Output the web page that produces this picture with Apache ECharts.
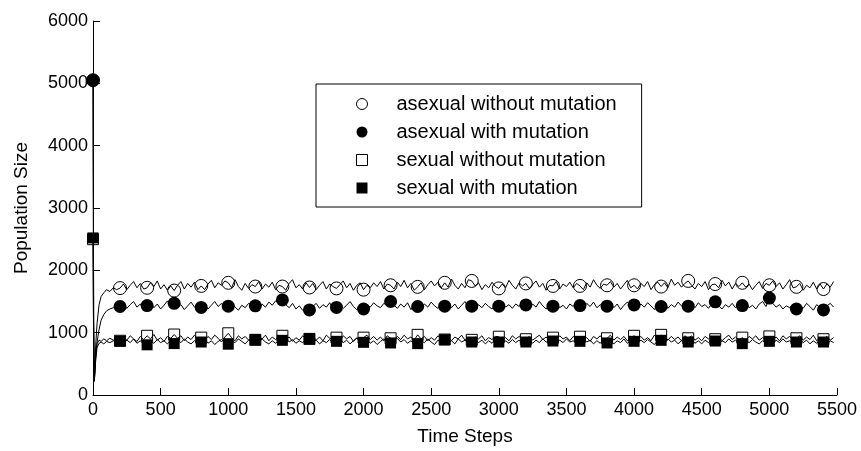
<!DOCTYPE html>
<html>
<head>
<meta charset="utf-8">
<script src="https://cdn.jsdelivr.net/npm/echarts@6/dist/echarts.min.js"></script>
<style>
html,body{margin:0;padding:0;background:#fff;}
#chart{width:861px;height:451px;}
</style>
</head>
<body>
<div id="chart"></div>
<script>
// ---- data ----
const seriesNames = ['asexual without mutation', 'asexual with mutation', 'sexual without mutation', 'sexual with mutation'];
const xTicks = [0, 500, 1000, 1500, 2000, 2500, 3000, 3500, 4000, 4500, 5000, 5500];
const yTicks = [0, 1000, 2000, 3000, 4000, 5000, 6000];

// marker sample times: 0, 200, ..., 5400
const markerTimes = [0,200,400,600,800,1000,1200,1400,1600,1800,2000,2200,2400,2600,2800,3000,3200,3400,3600,3800,4000,4200,4400,4600,4800,5000,5200,5400];

const awMarks = [5050,1715,1720,1675,1750,1800,1740,1740,1725,1710,1690,1760,1735,1800,1830,1710,1790,1750,1750,1760,1760,1740,1830,1780,1800,1760,1735,1700];
const amMarks = [5050,1420,1435,1470,1405,1425,1430,1525,1365,1405,1380,1500,1420,1425,1425,1425,1445,1425,1435,1425,1445,1420,1425,1495,1435,1555,1380,1365];
const swMarks = [2500,870,950,970,920,990,885,950,900,920,920,910,965,890,885,935,895,920,935,910,950,965,910,895,920,940,910,895];
const smMarks = [2520,865,805,825,850,815,888,877,903,861,845,835,824,888,850,850,850,866,861,835,861,877,850,866,824,861,850,850];

// line sample times: early transient, then every 25 steps from 200 to 5475
const earlyTimes = [0, 5, 10, 20, 30, 45, 60, 80, 100, 125, 150, 175];
const lineTimes = earlyTimes.slice();
for (let t = 200; t <= 5475; t += 25) lineTimes.push(t);

const awLine = [5050,1200,260,800,1150,1450,1580,1640,1690,1660,1720,1690,
 1715,1780,1690,1760,1820,1720,1790,1700,
 1720,1800,1740,1830,1700,1770,1680,1750,
 1675,1760,1820,1700,1790,1730,1810,1690,
 1750,1690,1780,1840,1720,1800,1760,1830,
 1800,1720,1850,1740,1680,1790,1710,1770,
 1740,1820,1700,1780,1730,1810,1690,1760,
 1740,1680,1790,1850,1720,1770,1700,1800,
 1725,1790,1690,1760,1820,1700,1780,1740,
 1710,1770,1830,1720,1790,1680,1760,1800,
 1690,1760,1720,1800,1740,1820,1700,1780,
 1760,1700,1810,1740,1840,1720,1790,1680,
 1735,1800,1690,1770,1830,1750,1810,1720,
 1800,1730,1860,1760,1700,1790,1720,1850,
 1830,1750,1800,1690,1770,1720,1810,1740,
 1710,1780,1720,1840,1760,1700,1800,1750,
 1790,1710,1770,1830,1730,1790,1680,1760,
 1750,1820,1700,1780,1740,1810,1720,1790,
 1750,1690,1800,1730,1850,1760,1710,1780,
 1760,1820,1730,1790,1700,1770,1840,1720,
 1760,1700,1790,1740,1820,1690,1770,1810,
 1740,1800,1720,1860,1760,1810,1730,1790,
 1830,1760,1700,1790,1740,1820,1690,1770,
 1780,1720,1840,1750,1810,1700,1790,1740,
 1800,1730,1780,1690,1760,1820,1710,1790,
 1760,1830,1740,1800,1700,1770,1850,1720,
 1735,1790,1680,1760,1720,1810,1700,1780,
 1700,1780,1730,1820];
const amLine = [5050,1100,220,600,850,1050,1200,1290,1350,1380,1400,1440,
 1420,1470,1390,1450,1500,1410,1460,1380,
 1435,1490,1400,1460,1380,1440,1510,1420,
 1470,1400,1450,1370,1430,1490,1410,1460,
 1405,1460,1380,1440,1500,1420,1470,1390,
 1425,1480,1410,1360,1440,1400,1470,1450,
 1430,1380,1460,1410,1490,1440,1510,1470,
 1525,1450,1400,1470,1380,1430,1360,1410,
 1365,1420,1470,1390,1450,1410,1480,1380,
 1405,1460,1390,1440,1500,1420,1370,1430,
 1380,1450,1410,1480,1430,1400,1470,1440,
 1500,1440,1390,1460,1410,1480,1370,1450,
 1420,1380,1460,1410,1490,1430,1390,1450,
 1425,1480,1400,1460,1380,1440,1500,1410,
 1425,1370,1450,1400,1470,1420,1380,1460,
 1425,1480,1410,1450,1390,1460,1420,1490,
 1445,1390,1460,1410,1500,1430,1380,1450,
 1425,1470,1400,1440,1380,1460,1420,1480,
 1435,1390,1470,1420,1490,1400,1450,1410,
 1425,1480,1400,1460,1370,1440,1490,1420,
 1445,1390,1460,1410,1480,1430,1370,1450,
 1420,1470,1390,1450,1410,1490,1430,1380,
 1425,1460,1400,1480,1420,1450,1390,1470,
 1495,1430,1380,1450,1410,1470,1400,1460,
 1435,1480,1400,1440,1380,1460,1500,1420,
 1555,1470,1410,1450,1380,1430,1400,1460,
 1380,1440,1390,1470,1420,1360,1450,1400,
 1365,1430,1470,1410];
const swLine = [2500,700,250,650,820,880,860,900,870,910,880,900,
 870,930,880,950,900,860,940,890,
 950,900,970,880,920,860,940,910,
 970,910,950,870,930,890,960,880,
 920,870,940,890,960,910,850,930,
 990,920,870,950,900,940,880,920,
 885,940,900,960,870,930,890,950,
 950,890,930,860,920,880,950,900,
 900,950,880,930,870,960,910,890,
 920,870,950,900,940,860,920,880,
 920,960,890,940,880,930,870,950,
 910,870,940,890,960,900,930,880,
 965,900,940,870,920,880,950,900,
 890,940,870,930,900,960,880,920,
 885,930,900,950,870,920,890,940,
 935,880,920,870,950,900,940,890,
 895,940,880,920,960,890,930,870,
 920,880,950,900,930,870,940,910,
 935,890,920,860,940,900,950,880,
 910,960,880,930,890,940,870,920,
 950,900,940,880,920,870,960,900,
 965,910,880,940,890,930,870,950,
 910,950,880,920,870,940,900,930,
 895,940,870,920,960,890,930,880,
 920,870,940,900,950,880,920,890,
 940,890,930,870,950,900,940,880,
 910,950,880,930,890,960,870,920,
 895,940,880,920];
const smLine = [2520,650,220,560,760,830,850,820,860,840,870,850,
 865,820,880,840,900,830,870,810,
 805,860,830,890,840,870,820,880,
 825,880,840,900,850,820,870,830,
 850,900,830,870,810,860,890,840,
 815,870,840,900,860,820,880,850,
 888,840,900,850,820,870,830,880,
 877,920,850,890,830,870,840,900,
 903,850,880,820,870,840,890,830,
 861,900,840,880,820,870,910,850,
 845,890,830,870,810,860,900,840,
 835,880,910,850,890,830,870,820,
 824,870,840,900,850,810,880,840,
 888,830,870,820,900,850,880,830,
 850,900,840,880,820,870,830,890,
 850,810,870,830,890,840,880,820,
 850,890,830,880,840,900,850,870,
 866,820,880,840,900,850,870,830,
 861,910,850,880,820,870,830,890,
 835,880,820,870,840,900,830,860,
 861,820,880,840,890,850,810,870,
 877,830,900,850,880,820,870,840,
 850,890,830,870,820,880,840,900,
 866,820,870,840,900,850,880,830,
 824,880,840,890,850,820,870,840,
 861,820,880,840,900,850,870,830,
 850,900,840,880,820,870,830,890,
 850,810,870,840];

// ---- build ----
const pair = (ts, vs) => ts.map((t, i) => [t, vs[i]]);
const FONT = 'Liberation Sans, Arial, Helvetica, sans-serif';

const lineSets = [awLine, amLine, swLine, smLine];
const markSets = [awMarks, amMarks, swMarks, smMarks];
const symbols = ['circle', 'circle', 'rect', 'rect'];
const filled = [false, true, false, true];
const sizes = [13, 13, 11, 11];

const series = [];
lineSets.forEach((vals, i) => {
  series.push({
    name: seriesNames[i] + ' line',
    type: 'line',
    data: pair(lineTimes, vals),
    showSymbol: false,
    symbol: 'none',
    silent: true,
    z: 3,
    lineStyle: { color: '#000', width: 1 },
    itemStyle: { color: '#000' },
    animation: false
  });
});
markSets.forEach((vals, i) => {
  series.push({
    name: seriesNames[i],
    type: 'scatter',
    data: pair(markerTimes, vals),
    symbol: symbols[i],
    symbolSize: sizes[i],
    clip: false,
    z: filled[i] ? 4 : 2,
    itemStyle: filled[i]
      ? { color: '#000', borderColor: '#000', borderWidth: 0, opacity: 1 }
      : { color: '#fff', borderColor: '#000', borderWidth: 1, opacity: 1 },
    animation: false
  });
});

const chart = echarts.init(document.getElementById('chart'), null, { renderer: 'canvas' });
chart.setOption({
  backgroundColor: '#fff',
  animation: false,
  grid: { left: 93, right: 24, top: 21, bottom: 52.5, containLabel: false },
  xAxis: {
    type: 'value', min: xTicks[0], max: xTicks[xTicks.length - 1], interval: 500,
    name: 'Time Steps', nameLocation: 'middle', nameGap: 32,
    nameTextStyle: { color: '#000', fontSize: 19, fontFamily: FONT },
    axisLine: { show: true, lineStyle: { color: '#000', width: 1 } },
    axisTick: { show: true, inside: true, length: 7, lineStyle: { color: '#000' } },
    axisLabel: { color: '#000', fontSize: 18, fontFamily: FONT, margin: 6, formatter: v => String(v) },
    splitLine: { show: false }
  },
  yAxis: {
    type: 'value', min: yTicks[0], max: yTicks[yTicks.length - 1], interval: 1000,
    name: 'Population Size', nameLocation: 'middle', nameGap: 62,
    nameTextStyle: { color: '#000', fontSize: 19, fontFamily: FONT },
    axisLine: { show: true, lineStyle: { color: '#000', width: 1 } },
    axisTick: { show: true, inside: true, length: 7, lineStyle: { color: '#000' } },
    axisLabel: { color: '#000', fontSize: 18, fontFamily: FONT, margin: 5, formatter: v => String(v) },
    splitLine: { show: false }
  },
  legend: {
    orient: 'vertical',
    left: 316, top: 84,
    padding: [10, 25, 9, 40],
    itemGap: 8,
    itemWidth: 11, itemHeight: 11,
    borderColor: '#000', borderWidth: 1,
    backgroundColor: '#fff',
    selectedMode: false,
    textStyle: { color: '#000', fontSize: 20, fontFamily: FONT, lineHeight: 20, padding: [0, 0, 0, 24] },
    data: [
      { name: seriesNames[0], icon: 'circle', itemStyle: { color: '#fff', borderColor: '#000', borderWidth: 1 } },
      { name: seriesNames[1], icon: 'circle', itemStyle: { color: '#000', borderWidth: 0 } },
      { name: seriesNames[2], icon: 'rect', itemStyle: { color: '#fff', borderColor: '#000', borderWidth: 1 } },
      { name: seriesNames[3], icon: 'rect', itemStyle: { color: '#000', borderWidth: 0 } }
    ]
  },
  series: series
});
</script>
</body>
</html>
